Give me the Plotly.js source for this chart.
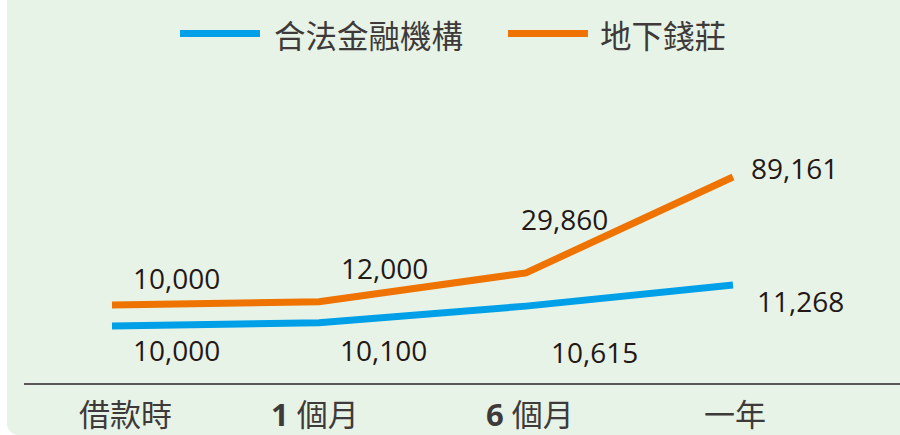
<!DOCTYPE html>
<html>
<head>
<meta charset="utf-8">
<script src="https://cdn.plot.ly/plotly-3.0.1.min.js"></script>
<style>
  html, body { margin: 0; padding: 0; background: #ffffff; }
  #chart { position: absolute; left: 7px; top: 0; width: 893px; height: 435px;
           border-bottom-left-radius: 12px; overflow: hidden; background: #e8f3e7; }
</style>
</head>
<body>
<div id="chart"></div>
<script>
// ---- data ----
const categories = ['借款時', '1 個月', '6 個月', '一年'];
const tickLabels = ['借款時', '<b>1</b> 個月', '<b>6</b> 個月', '一年'];
const seriesNames = ['合法金融機構', '地下錢莊'];
const legalValues = [10000, 10100, 10615, 11268];
const undergroundValues = [10000, 12000, 29860, 89161];

// ---- styles ----
const BLUE = '#00a0e9';
const ORANGE = '#ef7300';
const TEXT_DARK = '#231815';
const TEXT_CJK = '#3e3a39';
const BG = '#e8f3e7';
const idx = categories.map((c, i) => i);

// label offsets (px) relative to each point
const legalShift = [[64, -24], [65, -27], [69, -46], [68, -16]];
const undergroundShift = [[64, 27], [66, 34], [39, 54], [62, 9]];
const tickShift = [13, -4, 4, 2];

const fmt = v => v.toLocaleString('en-US');

const traces = [
  { x: idx, y: legalValues, name: seriesNames[0], type: 'scatter', mode: 'lines',
    line: { color: BLUE, width: 7 }, yaxis: 'y', showlegend: false, hoverinfo: 'skip' },
  { x: idx, y: undergroundValues, name: seriesNames[1], type: 'scatter', mode: 'lines',
    line: { color: ORANGE, width: 7 }, yaxis: 'y2', showlegend: false, hoverinfo: 'skip' }
];

const numFont = { family: 'Open Sans, sans-serif', size: 28, color: TEXT_DARK };
const annotations = [];
legalValues.forEach((v, i) => annotations.push({
  x: i, y: v, xref: 'x', yref: 'y', text: fmt(v), showarrow: false,
  xshift: legalShift[i][0], yshift: legalShift[i][1], font: numFont
}));
undergroundValues.forEach((v, i) => annotations.push({
  x: i, y: v, xref: 'x', yref: 'y2', text: fmt(v), showarrow: false,
  xshift: undergroundShift[i][0], yshift: undergroundShift[i][1], font: numFont
}));

// category labels under the axis
tickLabels.forEach((t, i) => annotations.push({
  x: i, y: -0.0809, xref: 'x', yref: 'paper', text: t, showarrow: false,
  xanchor: 'center', yanchor: 'middle', xshift: tickShift[i],
  font: { family: 'Open Sans, Noto Sans CJK TC, sans-serif', size: 31, color: TEXT_CJK }
}));

// custom legend (long line swatches)
const legendItems = [
  { name: seriesNames[0], color: BLUE, x0: 0.1781, x1: 0.2694, tx: 0.2831 },
  { name: seriesNames[1], color: ORANGE, x0: 0.5525, x1: 0.6438, tx: 0.6553 }
];
const shapes = [];
legendItems.forEach(it => {
  shapes.push({ type: 'line', xref: 'paper', yref: 'paper', x0: it.x0, x1: it.x1,
    y0: 0.9125, y1: 0.9125, line: { color: it.color, width: 7 } });
  annotations.push({ xref: 'paper', yref: 'paper', x: it.tx, y: 0.9112,
    xanchor: 'left', yanchor: 'middle', text: it.name, showarrow: false,
    font: { family: 'Noto Sans CJK TC, sans-serif', size: 31.5, color: TEXT_CJK } });
});

const layout = {
  width: 893, height: 435,
  margin: { l: 17, r: 0, t: 0, b: 52 },
  paper_bgcolor: BG, plot_bgcolor: BG,
  showlegend: false,
  xaxis: {
    range: [-0.4251, 3.8068], tickvals: idx, showticklabels: false,
    showline: true, linecolor: '#595757', linewidth: 2, ticks: '',
    showgrid: false, zeroline: false, fixedrange: true
  },
  yaxis: { range: [8237, 20083], visible: false, fixedrange: true },
  yaxis2: { range: [-38239, 198627], visible: false, overlaying: 'y', fixedrange: true },
  annotations: annotations,
  shapes: shapes
};

Plotly.newPlot('chart', traces, layout, { displayModeBar: false, staticPlot: true });
</script>
</body>
</html>
